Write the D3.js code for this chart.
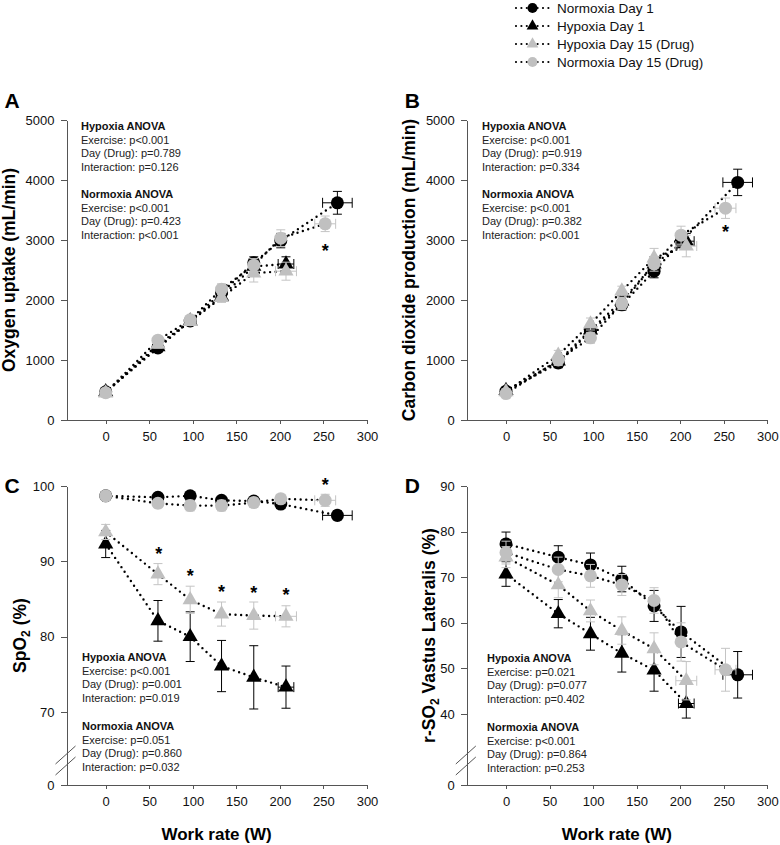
<!DOCTYPE html>
<html><head><meta charset="utf-8">
<script src="https://cdn.jsdelivr.net/npm/d3@7"></script>
<style>body{margin:0;background:#fff}svg{display:block;font-family:Arial,"Liberation Sans",sans-serif}</style>
</head><body><svg id="chart" width="780" height="845"></svg>
<script>
// ---------- data ----------
const seriesNames = ["Normoxia Day 1", "Hypoxia Day 1", "Hypoxia Day 15 (Drug)", "Normoxia Day 15 (Drug)"];
const seriesKeys = ["normoxiaDay1", "hypoxiaDay1", "hypoxiaDrug", "normoxiaDrug"];

const workRate = {
  normoxiaDay1: [0, 60, 97, 133, 170, 201, 266],
  hypoxiaDay1:  [0, 60, 97, 133, 170, 207],
  hypoxiaDrug:  [0, 60, 97, 133, 170, 207],
  normoxiaDrug: [0, 60, 97, 133, 170, 201, 252]
};
const workRateSD = {
  normoxiaDay1: [0, 0, 0, 0, 0, 0, 17],
  hypoxiaDay1:  [0, 0, 0, 0, 0, 9],
  hypoxiaDrug:  [0, 0, 0, 0, 0, 12],
  normoxiaDrug: [0, 0, 0, 0, 0, 0, 12]
};

// Panel A: oxygen uptake (mL/min)
const vo2 = {
  normoxiaDay1: [470, 1200, 1650, 2120, 2620, 2990, 3620],
  hypoxiaDay1:  [470, 1220, 1650, 2060, 2560, 2600],
  hypoxiaDrug:  [450, 1260, 1640, 2040, 2450, 2480],
  normoxiaDrug: [455, 1330, 1670, 2180, 2580, 3030, 3270]
};
const vo2SD = {
  normoxiaDay1: [40, 50, 60, 80, 100, 120, 190],
  hypoxiaDay1:  [40, 60, 60, 80, 120, 120],
  hypoxiaDrug:  [40, 60, 60, 80, 150, 150],
  normoxiaDrug: [40, 60, 60, 90, 110, 140, 130]
};
// Panel B: carbon dioxide production (mL/min)
const vco2 = {
  normoxiaDay1: [480, 950, 1480, 1920, 2480, 2970, 3960],
  hypoxiaDay1:  [490, 980, 1500, 1980, 2600, 2980],
  hypoxiaDrug:  [470, 1080, 1600, 2150, 2700, 2900],
  normoxiaDrug: [440, 1000, 1370, 1940, 2600, 3080, 3530]
};
const vco2SD = {
  normoxiaDay1: [50, 80, 80, 90, 110, 100, 220],
  hypoxiaDay1:  [50, 80, 90, 90, 120, 130],
  hypoxiaDrug:  [50, 80, 100, 80, 160, 180],
  normoxiaDrug: [50, 90, 90, 100, 120, 150, 170]
};
// Panel C: SpO2 (%)
const spo2 = {
  normoxiaDay1: [98.7, 98.5, 98.7, 98.1, 98.0, 97.6, 96.1],
  hypoxiaDay1:  [92.3, 82.1, 80.0, 76.1, 74.6, 73.3],
  hypoxiaDrug:  [93.9, 88.3, 84.9, 83.0, 82.8, 82.7],
  normoxiaDrug: [98.7, 97.7, 97.4, 97.4, 97.8, 98.3, 98.1]
};
const spo2SD = {
  normoxiaDay1: [0.3, 0.4, 0.4, 0.5, 0.5, 0.6, 0.6],
  hypoxiaDay1:  [1.8, 2.7, 3.3, 3.4, 4.2, 2.8],
  hypoxiaDrug:  [1.0, 1.4, 1.8, 1.6, 1.8, 1.4],
  normoxiaDrug: [0.3, 0.5, 0.7, 0.7, 0.6, 0.6, 0.8]
};
// Panel D: r-SO2 vastus lateralis (%)
const rso2 = {
  normoxiaDay1: [77.3, 74.4, 72.7, 69.6, 63.7, 58.0, 48.6],
  hypoxiaDay1:  [70.7, 62.0, 57.6, 53.3, 49.6, 42.3],
  hypoxiaDrug:  [74.4, 68.3, 62.6, 58.3, 54.3, 47.3],
  normoxiaDrug: [75.4, 71.7, 70.3, 68.3, 64.9, 55.8, 49.7]
};
const rso2SD = {
  normoxiaDay1: [2.6, 2.5, 2.6, 2.8, 3.4, 5.6, 5.1],
  hypoxiaDay1:  [2.7, 3.1, 3.6, 4.1, 4.6, 4.6],
  hypoxiaDrug:  [2.3, 2.8, 2.4, 3.0, 3.5, 4.2],
  normoxiaDrug: [2.5, 2.7, 2.5, 2.3, 2.8, 4.2, 4.7]
};

const xTicks = [0, 50, 100, 150, 200, 250, 300];
const yTicksAB = [0, 1000, 2000, 3000, 4000, 5000];
const yTicksC = [0, 70, 80, 90, 100];
const yTicksD = [0, 40, 50, 60, 70, 80, 90];

const statsA = [["Hypoxia ANOVA", "Exercise: p<0.001", "Day (Drug): p=0.789", "Interaction: p=0.126"],
                ["Normoxia ANOVA", "Exercise: p<0.001", "Day (Drug): p=0.423", "Interaction: p<0.001"]];
const statsB = [["Hypoxia ANOVA", "Exercise: p<0.001", "Day (Drug): p=0.919", "Interaction: p=0.334"],
                ["Normoxia ANOVA", "Exercise: p<0.001", "Day (Drug): p=0.382", "Interaction: p<0.001"]];
const statsC = [["Hypoxia ANOVA", "Exercise: p<0.001", "Day (Drug): p=0.001", "Interaction: p=0.019"],
                ["Normoxia ANOVA", "Exercise: p=0.051", "Day (Drug): p=0.860", "Interaction: p=0.032"]];
const statsD = [["Hypoxia ANOVA", "Exercise: p=0.021", "Day (Drug): p=0.077", "Interaction: p=0.402"],
                ["Normoxia ANOVA", "Exercise: p<0.001", "Day (Drug): p=0.864", "Interaction: p=0.253"]];

// significance markers [work rate, value]
const sigA = [[252, 2880]];
const sigB = [[252, 3200]];
const sigC = [[61, 91.5], [97, 88.6], [133, 86.5], [170, 86.3], [207, 86.0], [252, 100.7]];
const sigD = [];

// ---------- styling ----------
const colors = {normoxiaDay1: "#000", hypoxiaDay1: "#000", hypoxiaDrug: "#c0c0c0", normoxiaDrug: "#c0c0c0"};
const errColors = {normoxiaDay1: "#000", hypoxiaDay1: "#000", hypoxiaDrug: "#c4c4c4", normoxiaDrug: "#c4c4c4"};
const shapes = {normoxiaDay1: d3.symbolCircle, hypoxiaDay1: d3.symbolTriangle, hypoxiaDrug: d3.symbolTriangle, normoxiaDrug: d3.symbolCircle};
const shapeSize = {circle: 133, triangle: 100};

const svg = d3.select("#chart");

const panels = [
  {letter: "A", left: 66.5, top: 120, bottom: 420, yDomain: [0, 5000], yRangeMid: null, yTicks: yTicksAB,
   vals: vo2, sds: vo2SD, stats: statsA, statsX: 81, statsY: [130, 198], sig: sigA,
   title: [["Oxygen uptake (mL/min)", false]], titleX: 15, showX: false},
  {letter: "B", left: 466.8, top: 120, bottom: 420, yDomain: [0, 5000], yRangeMid: null, yTicks: yTicksAB,
   vals: vco2, sds: vco2SD, stats: statsB, statsX: 482, statsY: [130, 198], sig: sigB,
   title: [["Carbon dioxide production (mL/min)", false]], titleX: 415, showX: false},
  {letter: "C", left: 66.5, top: 486, bottom: 785, yDomain: [0, 70, 100], yRangeMid: 712, yTicks: yTicksC,
   vals: spo2, sds: spo2SD, stats: statsC, statsX: 82, statsY: [661, 730], sig: sigC,
   title: [["SpO", false], ["2", true], [" (%)", false]], titleX: 26, showX: true, brk: true},
  {letter: "D", left: 466.8, top: 486, bottom: 785, yDomain: [0, 40, 90], yRangeMid: 714, yTicks: yTicksD,
   vals: rso2, sds: rso2SD, stats: statsD, statsX: 487, statsY: [662, 731], sig: sigD,
   title: [["r-SO", false], ["2", true], [" Vastus Lateralis (%)", false]], titleX: 435, showX: true, brk: true}
];

panels.forEach(p => {
  const g = svg.append("g");
  const x = d3.scaleLinear().domain([-45, 300]).range([p.left, p.left + 300.5]);
  const yRange = p.yRangeMid ? [p.bottom, p.yRangeMid, p.top] : [p.bottom, p.top];
  const y = d3.scaleLinear().domain(p.yDomain).range(yRange);

  // axes
  const xa = g.append("g").attr("transform", `translate(0,${p.bottom})`)
    .call(d3.axisBottom(x).tickValues(xTicks).tickFormat(d3.format("d")).tickSize(4).tickSizeOuter(0).tickPadding(8));
  const ya = g.append("g").attr("transform", `translate(${p.left},0)`)
    .call(d3.axisLeft(y).tickValues(p.yTicks).tickFormat(d3.format("d")).tickSize(6).tickSizeOuter(0).tickPadding(6));
  [xa, ya].forEach(a => {
    a.selectAll("path,line").attr("stroke", "#555").attr("shape-rendering", "crispEdges");
    a.selectAll("text").attr("fill", "#111").style("font-size", "13px").style("font-family", "Arial, 'Liberation Sans', sans-serif");
  });

  // axis break marks
  if (p.brk) {
    const by = p.bottom - 31;
    [0, 11].forEach(o => {
      g.append("line").attr("x1", p.left - 11).attr("y1", by + o + 10)
        .attr("x2", p.left + 9).attr("y2", by + o - 8)
        .attr("stroke", "#555").attr("stroke-width", 1);
    });
  }

  // panel letter
  g.append("text").attr("x", p.left - 62).attr("y", p.top - 12 + (p.letter === "C" || p.letter === "D" ? 19 : 0))
    .attr("font-weight", "bold").attr("font-size", 21).text(p.letter);

  // y title
  const ty = g.append("text").attr("transform", `translate(${p.titleX},${(p.top + p.bottom) / 2}) rotate(-90)`)
    .attr("text-anchor", "middle").attr("font-weight", "bold").attr("font-size", 17.5);
  p.title.forEach(([t, sub]) => {
    const ts = ty.append("tspan").text(t);
    if (sub) ts.attr("font-size", 12).attr("dy", 4);
    else if (t !== p.title[0][0]) ts.attr("dy", -4);
  });

  // x title
  if (p.showX) {
    g.append("text").attr("x", p.left + 150).attr("y", 840).attr("text-anchor", "middle")
      .attr("font-weight", "bold").attr("font-size", 17).text("Work rate (W)");
  }

  // stats text
  p.stats.forEach((block, bi) => {
    block.forEach((line, li) => {
      g.append("text").attr("x", p.statsX).attr("y", p.statsY[bi] + li * 13.5)
        .attr("font-size", 11).attr("fill", li === 0 ? "#111" : "#222")
        .attr("font-weight", li === 0 ? "bold" : "normal").text(line);
    });
  });

  // dotted lines
  const line = d3.line().x(d => x(d[0])).y(d => y(d[1]));
  seriesKeys.forEach(k => {
    const pts = workRate[k].map((w, i) => [w, p.vals[k][i]]);
    g.append("path").attr("d", line(pts)).attr("fill", "none").attr("stroke", "#000")
      .attr("stroke-width", 2.4).attr("stroke-linecap", "round").attr("stroke-dasharray", "0,5.6");
  });

  // error bars + markers
  seriesKeys.forEach(k => {
    const eg = g.append("g").attr("stroke", errColors[k]).attr("stroke-width", 1);
    workRate[k].forEach((w, i) => {
      const v = p.vals[k][i], e = p.sds[k][i], xe = workRateSD[k][i];
      const cx = x(w), y1 = y(v - e), y2 = y(v + e);
      eg.append("line").attr("x1", cx).attr("x2", cx).attr("y1", y1).attr("y2", y2);
      eg.append("line").attr("x1", cx - 4.5).attr("x2", cx + 4.5).attr("y1", y1).attr("y2", y1);
      eg.append("line").attr("x1", cx - 4.5).attr("x2", cx + 4.5).attr("y1", y2).attr("y2", y2);
      if (xe > 0) {
        const x1 = x(w - xe), x2 = x(w + xe), cy = y(v);
        eg.append("line").attr("x1", x1).attr("x2", x2).attr("y1", cy).attr("y2", cy);
        eg.append("line").attr("x1", x1).attr("x2", x1).attr("y1", cy - 5).attr("y2", cy + 5);
        eg.append("line").attr("x1", x2).attr("x2", x2).attr("y1", cy - 5).attr("y2", cy + 5);
      }
    });
    const isTri = shapes[k] === d3.symbolTriangle;
    const sym = d3.symbol().type(shapes[k]).size(isTri ? shapeSize.triangle : shapeSize.circle);
    g.append("g").selectAll("path").data(workRate[k].map((w, i) => [w, p.vals[k][i]])).join("path")
      .attr("d", sym).attr("transform", d => `translate(${x(d[0])},${y(d[1])})`)
      .attr("fill", colors[k]);
  });

  // significance
  p.sig.forEach(([w, v]) => {
    g.append("text").attr("x", x(w)).attr("y", y(v) + 10).attr("text-anchor", "middle")
      .attr("font-size", 18).attr("font-weight", "bold").text("*");
  });
});

// legend
const lg = svg.append("g");
seriesNames.forEach((name, i) => {
  const k = seriesKeys[i];
  const cy = 8 + i * 18;
  lg.append("line").attr("x1", 516).attr("x2", 549).attr("y1", cy).attr("y2", cy)
    .attr("stroke", "#000").attr("stroke-width", 2.2).attr("stroke-linecap", "round").attr("stroke-dasharray", "0,5.4");
  const isTri = shapes[k] === d3.symbolTriangle;
  lg.append("path").attr("d", d3.symbol().type(shapes[k]).size(isTri ? 60 : 80)())
    .attr("transform", `translate(532.5,${cy})`).attr("fill", colors[k]);
  lg.append("text").attr("x", 557).attr("y", cy + 5).attr("font-size", 13.5).attr("fill", "#111").text(name);
});
</script></body></html>
